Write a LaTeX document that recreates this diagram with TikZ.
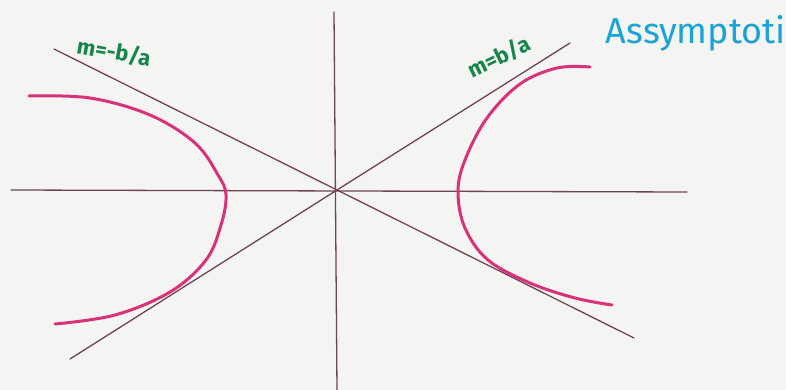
\documentclass[tikz,border=0pt]{standalone}
\usepackage{fontspec}
\setmainfont{Fira Sans}
\definecolor{Paper}{HTML}{F4F4F2}
\definecolor{Axis}{HTML}{6E4452}
\definecolor{Curve}{HTML}{D8327A}
\definecolor{Slope}{HTML}{17864A}
\definecolor{Note}{HTML}{1AA3D6}
\tikzset{
  axis/.style={draw=Axis,line width=1.3pt,line cap=round},
  branch/.style={draw=Curve,line width=3pt,line cap=round},
  slope/.style={text=Slope,font=\fontsize{22}{22}\selectfont\bfseries,inner sep=0pt},
  note/.style={text=Note,font=\fontsize{36}{36}\selectfont,inner sep=0pt}
}
\begin{document}
\begin{tikzpicture}[x=1pt,y=-1pt]
\fill[Paper] (0,0) rectangle (786,390);
\useasboundingbox (0,0) rectangle (786,390);
% axes
\coordinate (o) at (337,190);
\coordinate (xl) at (11,190);
\coordinate (xr) at (687,192);
\coordinate (yt) at (334,12);
\coordinate (yb) at (337,390);
\draw[axis] (xl) -- (xr);
\draw[axis] (yt) -- (yb);
% asymptotes
\coordinate (ntl) at (54,49);
\coordinate (nbr) at (634,338);
\coordinate (pbl) at (70,359);
\coordinate (ptr) at (570,43);
\draw[axis] (ntl) -- (o) -- (nbr);
\draw[axis] (pbl) -- (o) -- (ptr);
% branches
\draw[branch] plot[smooth,tension=0.6] coordinates
  {(29,96) (90,98) (150,115) (195,143) (218,175) (226,195) (221,225) (206,260) (170,292) (115,315) (55,324)};
\draw[branch] plot[smooth,tension=0.6] coordinates
  {(590,67) (557,68) (520,84) (487,118) (465,160) (458,192) (465,228) (488,260) (530,283) (575,298) (612,305)};
% labels
\node[slope,rotate=-10] (mneg) at (114,52) {m=-b/a};
\node[slope,rotate=26] (mpos) at (499,57) {m=b/a};
\node[note,anchor=east] (asym) at (786,33) {Assymptoti};
\end{tikzpicture}
\end{document}
